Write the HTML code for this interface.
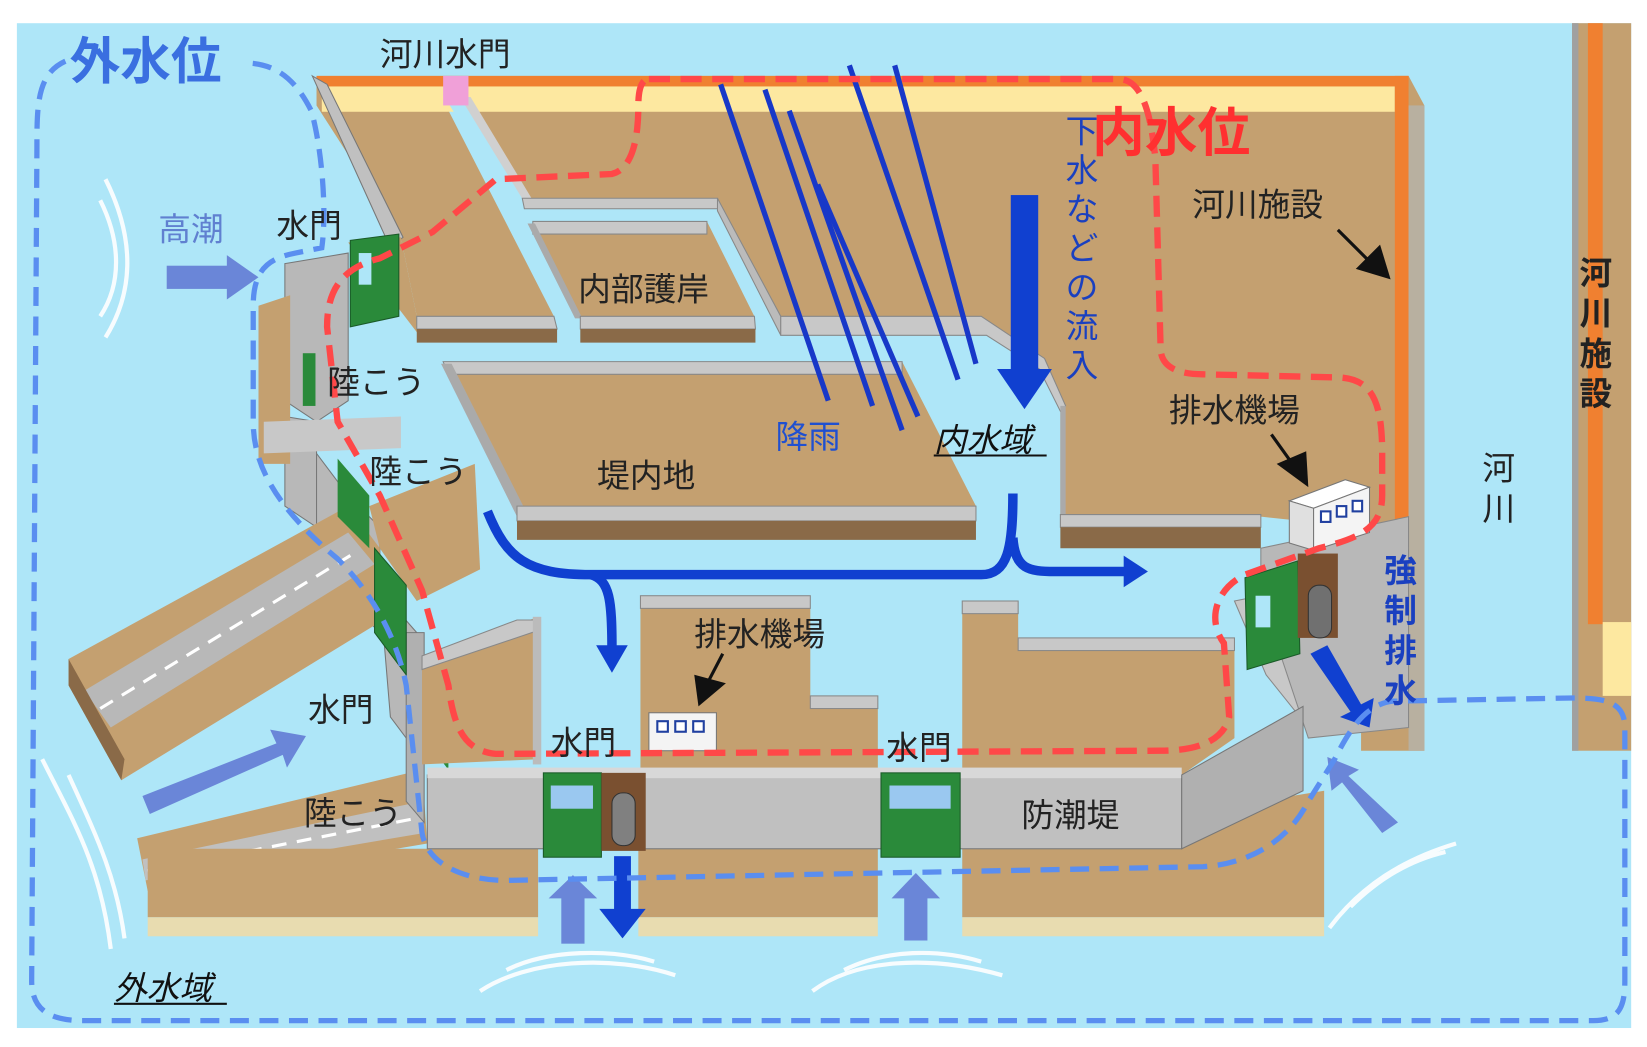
<!DOCTYPE html>
<html><head><meta charset="utf-8"><style>
html,body{margin:0;padding:0;background:#fff;}
svg{display:block}
text{font-family:"Liberation Sans","Noto Sans CJK JP",sans-serif;}
</style></head><body>
<svg width="1647" height="1047" viewBox="0 0 1561 993" preserveAspectRatio="none" xmlns="http://www.w3.org/2000/svg">
<rect x="0" y="0" width="1561" height="993" fill="#fff"/>
<rect x="16" y="22" width="1530" height="953" fill="#aee6f8"/>
<rect x="1490" y="22" width="56" height="690" fill="#c4a070"/>
<rect x="1490" y="22" width="6" height="690" fill="#a0a0a0"/>
<rect x="1505" y="22" width="14" height="570" fill="#f08030"/>
<rect x="1519" y="590" width="27" height="70" fill="#fde8a0"/>

<polygon points="300,72 1335,72 1350,100 1350,712 1290,712 1290,500 1195,490 1195,500 1005,500 1005,385 985,345 940,315 740,315 680,190 495,190 430,95 420,95 525,300 395,300 380,225 300,100" fill="#c4a070"/>
<rect x="300" y="72" width="1035" height="10" fill="#f08030"/>
<rect x="305" y="82" width="1017" height="24" fill="#fde8a0"/>
<rect x="1322" y="72" width="13" height="440" fill="#f08030"/>
<rect x="1335" y="100" width="15" height="612" fill="#b8b0a0"/>
<polygon points="296,72 310,80 382,225 370,235" fill="#c0c0c0" stroke="#777" stroke-width="1"/>
<polygon points="420,90 440,90 500,190 492,205" fill="#aee6f8"/>
<polygon points="436,92 446,92 505,190 496,190" fill="#d0d0d0"/>
<rect x="420" y="72" width="24" height="28" fill="#f0a0d8"/>
<polygon points="495,188 680,188 682,198 497,198" fill="#c8c8c8" stroke="#888"/>
<polygon points="680,188 740,300 740,318 680,200" fill="#bbb" stroke="#888"/>
<polygon points="740,300 930,300 990,340 1010,385 1005,390 985,350 935,318 740,318" fill="#c8c8c8" stroke="#888"/>
<polygon points="1005,385 1010,385 1010,490 1005,490" fill="#aaa"/>
<polygon points="1005,488 1195,488 1195,500 1005,500" fill="#c8c8c8" stroke="#888"/>
<polygon points="1005,500 1195,500 1195,520 1005,520" fill="#8a6a48"/>
<polygon points="330,230 380,225 395,300 525,300 525,315 395,315" fill="#c4a070"/>
<polygon points="395,300 525,300 528,312 395,312" fill="#c8c8c8" stroke="#888"/>
<polygon points="395,312 528,312 528,325 395,325" fill="#8a6a48"/>
<polygon points="505,210 670,210 715,300 550,300" fill="#c4a070"/>
<polygon points="505,210 670,210 670,222 505,222" fill="#c8c8c8" stroke="#888"/>
<polygon points="500,212 507,212 552,302 545,302" fill="#aaa"/>
<polygon points="550,300 715,300 716,312 550,312" fill="#c8c8c8" stroke="#888"/>
<polygon points="550,312 716,312 716,325 550,325" fill="#8a6a48"/>
<polygon points="420,343 855,343 925,480 490,480" fill="#c4a070"/>
<polygon points="420,343 855,343 855,355 425,355" fill="#c8c8c8" stroke="#888"/>
<polygon points="418,345 428,345 497,482 490,490" fill="#aaa"/>
<polygon points="490,480 925,480 925,494 490,494" fill="#c8c8c8" stroke="#888"/>
<polygon points="490,494 925,494 925,512 490,512" fill="#8a6a48"/>

<polygon points="270,250 330,240 330,380 300,400 270,380" fill="#b8b8b8" stroke="#777"/>
<polygon points="270,395 300,400 300,500 270,480" fill="#b8b8b8" stroke="#777"/>
<polygon points="245,290 275,280 275,440 245,440" fill="#c4a070"/>
<polygon points="300,430 330,470 330,560 300,520" fill="#b8b8b8" stroke="#777"/>
<polygon points="330,470 360,500 360,600 330,570" fill="#b8b8b8" stroke="#777"/>
<polygon points="65,625 330,480 360,520 360,590 115,740 65,650" fill="#c4a070"/>
<polygon points="80,655 330,505 355,535 105,690" fill="#b8b8b8"/>
<polygon points="65,625 65,650 115,740 118,720" fill="#8a6a48"/>
<path d="M95,672 L340,522" stroke="#fff" stroke-width="3" stroke-dasharray="14 10"/>
<polygon points="350,480 450,440 455,540 395,570 360,520" fill="#c4a070"/>
<polygon points="250,400 380,395 380,425 250,430" fill="#c8c8c8"/>
<polygon points="130,795 400,730 405,800 140,845" fill="#c4a070"/>
<polygon points="135,815 400,760 402,790 138,835" fill="#c0c0c0"/>
<path d="M140,826 L400,775" stroke="#fff" stroke-width="3" stroke-dasharray="14 10"/>
<polygon points="360,560 395,600 400,720 370,680" fill="#b8b8b8" stroke="#777"/>
<polygon points="385,600 402,600 402,780 385,760" fill="#b0b0b0" stroke="#777"/>
<polygon points="332,228 378,222 378,300 332,310" fill="#2a8a3a" stroke="#1a5a28"/>
<rect x="340" y="240" width="12" height="30" fill="#aee6f8"/>
<rect x="287" y="335" width="12" height="50" fill="#2a8a3a"/>
<polygon points="320,435 350,470 350,520 320,490" fill="#2a8a3a"/>
<polygon points="355,520 385,555 385,640 355,600" fill="#2a8a3a" stroke="#1a5a28"/>
<polygon points="402,670 425,700 425,730 402,700" fill="#2a8a3a"/>

<polygon points="400,625 510,585 512,720 400,725" fill="#c4a070"/>
<polygon points="400,622 490,588 510,588 510,598 400,635" fill="#c8c8c8" stroke="#888"/>
<rect x="505" y="585" width="8" height="140" fill="#bbb"/>
<polygon points="607,565 768,565 768,660 832,660 832,735 607,735" fill="#c4a070"/>
<rect x="607" y="565" width="161" height="12" fill="#c8c8c8" stroke="#888"/>
<rect x="768" y="660" width="64" height="12" fill="#c8c8c8" stroke="#888"/>
<polygon points="912,570 965,570 965,605 1170,605 1170,700 1120,735 912,735" fill="#c4a070"/>
<rect x="912" y="570" width="53" height="12" fill="#c8c8c8" stroke="#888"/>
<rect x="965" y="605" width="205" height="12" fill="#c8c8c8" stroke="#888"/>
<polygon points="1170,570 1195,565 1240,675 1240,690 1200,640" fill="#c8c8c8" stroke="#888"/>
<polygon points="1195,520 1335,490 1335,690 1240,700 1195,565" fill="#b8b8b8" stroke="#888"/>
<polygon points="140,805 510,805 510,870 140,870" fill="#c4a070"/>
<polygon points="605,805 832,805 832,870 605,870" fill="#c4a070"/>
<polygon points="912,805 1255,750 1255,870 912,870" fill="#c4a070"/>
<rect x="140" y="870" width="370" height="18" fill="#e8dcb0"/>
<rect x="605" y="870" width="227" height="18" fill="#e8dcb0"/>
<rect x="912" y="870" width="343" height="18" fill="#e8dcb0"/>
<rect x="405" y="735" width="715" height="70" fill="#c0c0c0" stroke="#777"/>
<rect x="405" y="728" width="715" height="10" fill="#d8d8d8"/>
<polygon points="1120,735 1235,670 1235,750 1120,805" fill="#b0b0b0" stroke="#777"/>
<rect x="515" y="733" width="55" height="80" fill="#2a8a3a" stroke="#1a5a28"/>
<rect x="522" y="745" width="40" height="22" fill="#9ac8f0"/>
<rect x="570" y="733" width="42" height="74" fill="#7a5030"/>
<rect x="580" y="752" width="22" height="50" rx="10" fill="#808080" stroke="#333"/>
<rect x="835" y="733" width="75" height="80" fill="#2a8a3a" stroke="#1a5a28"/>
<rect x="843" y="745" width="58" height="22" fill="#9ac8f0"/>
<polygon points="1180,548 1230,532 1232,620 1182,635" fill="#2a8a3a" stroke="#1a5a28"/>
<rect x="1190" y="565" width="14" height="30" fill="#aee6f8"/>
<rect x="1230" y="525" width="38" height="80" fill="#7a5030"/>
<rect x="1240" y="555" width="22" height="50" rx="10" fill="#707070" stroke="#333"/>
<rect x="615" y="676" width="64" height="36" fill="#f4f4f4" stroke="#777"/>
<rect x="623" y="684" width="10" height="10" fill="#fff" stroke="#2040a0" stroke-width="2"/>
<rect x="640" y="684" width="10" height="10" fill="#fff" stroke="#2040a0" stroke-width="2"/>
<rect x="657" y="684" width="10" height="10" fill="#fff" stroke="#2040a0" stroke-width="2"/>
<polygon points="1222,475 1275,455 1298,462 1245,482" fill="#fff" stroke="#777"/>
<polygon points="1222,475 1245,482 1245,522 1222,515" fill="#e0e0e0" stroke="#777"/>
<polygon points="1245,482 1298,462 1298,505 1245,522" fill="#f4f4f4" stroke="#777"/>
<rect x="1252" y="485" width="9" height="10" fill="#fff" stroke="#2040a0" stroke-width="2"/>
<rect x="1267" y="480" width="9" height="10" fill="#fff" stroke="#2040a0" stroke-width="2"/>
<rect x="1282" y="475" width="9" height="10" fill="#fff" stroke="#2040a0" stroke-width="2"/>

<g stroke="#1838c8" stroke-width="5">
<line x1="683" y1="80" x2="785" y2="380"/><line x1="725" y1="85" x2="827" y2="385"/>
<line x1="748" y1="105" x2="855" y2="408"/><line x1="775" y1="175" x2="870" y2="395"/>
<line x1="805" y1="62" x2="908" y2="360"/><line x1="848" y1="62" x2="925" y2="345"/>
</g>
<g fill="none" stroke="#1040d0" stroke-width="9">
<path d="M462,485 C480,530 500,545 560,545 L930,545 C955,545 960,520 960,468"/>
<path d="M960,510 C962,540 975,542 1000,542 L1068,542"/>
<path d="M560,545 C578,550 580,570 580,615"/>
</g>
<polygon points="1065,527 1088,542 1065,557" fill="#1040d0"/>
<polygon points="565,612 595,612 580,638" fill="#1040d0"/>
<rect x="958" y="185" width="26" height="170" fill="#1040d0"/>
<polygon points="945,350 997,350 971,388" fill="#1040d0"/>
<rect x="582" y="812" width="16" height="55" fill="#1040d0"/>
<polygon points="568,862 612,862 590,890" fill="#1040d0"/>
<polygon points="1242,620 1258,612 1290,668 1302,662 1298,690 1270,680 1280,675" fill="#1040d0"/>
<g fill="#6a86d8">
<rect x="158" y="252" width="60" height="22"/><polygon points="215,242 245,263 215,284"/>
<polygon points="135,755 262,705 256,692 290,698 272,728 268,716 142,772"/>
<rect x="532" y="850" width="22" height="45"/><polygon points="520,852 566,852 543,830"/>
<rect x="857" y="850" width="22" height="42"/><polygon points="845,852 891,852 868,828"/>
<polygon points="1325,780 1310,790 1272,742 1262,750 1258,718 1288,730 1278,736"/>
</g>
<g fill="none" stroke="#fff" stroke-width="4" opacity="0.9">
<path d="M100,170 C130,230 125,280 100,320"/><path d="M95,190 C115,230 115,270 95,300"/>
<path d="M40,720 C70,780 95,820 105,900"/><path d="M65,735 C90,790 110,830 118,890"/>
<path d="M455,940 C500,910 580,905 640,925"/><path d="M480,920 C520,900 580,900 620,912"/>
<path d="M770,940 C810,910 880,905 950,925"/><path d="M800,920 C840,900 890,900 930,912"/>
<path d="M1260,880 C1290,840 1330,815 1380,800"/><path d="M1280,860 C1310,830 1340,815 1370,808"/>
</g>

<path d="M62,58 C35,70 35,100 35,140 L30,930 C30,960 50,968 80,968 L1510,968 C1535,968 1540,955 1540,930 L1540,690 C1540,665 1520,662 1490,662 L1320,665 C1295,668 1280,690 1265,720 L1240,760 C1220,800 1180,820 1140,822 L480,835 C440,835 405,820 400,790 L385,650 C375,600 350,560 320,530 C260,480 240,440 240,400 L240,290 C240,255 255,245 280,240 L305,235 C310,200 305,140 295,105 C280,75 262,62 238,60" fill="none" stroke="#5a8ef0" stroke-width="5" stroke-dasharray="18 10"/>
<path d="M615,75 L1060,75 C1080,75 1090,100 1095,150 L1100,330 C1100,350 1120,355 1140,355 L1270,358 C1300,360 1310,380 1310,430 L1310,470 C1310,500 1290,510 1250,520 L1180,545 C1150,560 1145,590 1160,610 L1165,680 C1160,700 1140,712 1100,712 L470,715 C440,712 430,690 425,650 L400,560 L360,470 L320,400 L310,310 C310,280 320,255 360,245 L410,220 L470,170 L580,165 C600,160 605,130 605,100 C605,85 608,75 615,75 Z" fill="none" stroke="#ff4848" stroke-width="6" stroke-dasharray="20 10"/>

<g font-size="31" fill="#222">
<text x="360" y="62">河川水門</text>
<text x="1130" y="205">河川施設</text>
<text x="262" y="225">水門</text>
<text x="548" y="285">内部護岸</text>
<text x="310" y="373">陸こう</text>
<text x="350" y="458">陸こう</text>
<text x="288" y="782">陸こう</text>
<text x="566" y="462">堤内地</text>
<text x="1108" y="400">排水機場</text>
<text x="658" y="612">排水機場</text>
<text x="292" y="684">水門</text>
<text x="522" y="715">水門</text>
<text x="840" y="720">水門</text>
<text x="968" y="784">防潮堤</text>
</g>
<text x="150" y="228" font-size="31" fill="#6080d0">高潮</text>
<text x="735" y="425" font-size="31" fill="#2050d0">降雨</text>
<text x="885" y="428" font-size="31" font-style="italic" fill="#111">内水域</text>
<line x1="885" y1="432" x2="992" y2="432" stroke="#111" stroke-width="2"/>
<text x="108" y="948" font-size="31" font-style="italic" fill="#111">外水域</text>
<line x1="108" y1="952" x2="215" y2="952" stroke="#111" stroke-width="2"/>
<text x="66" y="75" font-size="48" font-weight="bold" fill="#3a6fe0">外水位</text>
<text x="1035" y="143" font-size="50" font-weight="bold" fill="#ff3030">内水位</text>
<g font-size="31" fill="#1a40c0">
<text x="1010" y="135">下</text><text x="1010" y="172">水</text><text x="1010" y="209">な</text><text x="1010" y="246">ど</text><text x="1010" y="283">の</text><text x="1010" y="320">流</text><text x="1010" y="357">入</text>
</g>
<g font-size="31" fill="#1a40c0" font-weight="bold">
<text x="1312" y="552">強</text><text x="1312" y="590">制</text><text x="1312" y="628">排</text><text x="1312" y="666">水</text>
</g>
<g font-size="31" fill="#222" font-weight="bold">
<text x="1497" y="270">河</text><text x="1497" y="308">川</text><text x="1497" y="346">施</text><text x="1497" y="384">設</text>
</g>
<g font-size="31" fill="#222">
<text x="1405" y="455">河</text><text x="1405" y="493">川</text>
</g>
<line x1="1268" y1="218" x2="1300" y2="250" stroke="#111" stroke-width="3"/>
<polygon points="1285,255 1318,265 1308,232" fill="#111"/>
<line x1="1205" y1="412" x2="1225" y2="440" stroke="#111" stroke-width="3"/>
<polygon points="1210,440 1240,462 1238,428" fill="#111"/>
<line x1="685" y1="620" x2="672" y2="645" stroke="#111" stroke-width="3"/>
<polygon points="658,640 662,670 688,648" fill="#111"/>
</svg>
</body></html>
